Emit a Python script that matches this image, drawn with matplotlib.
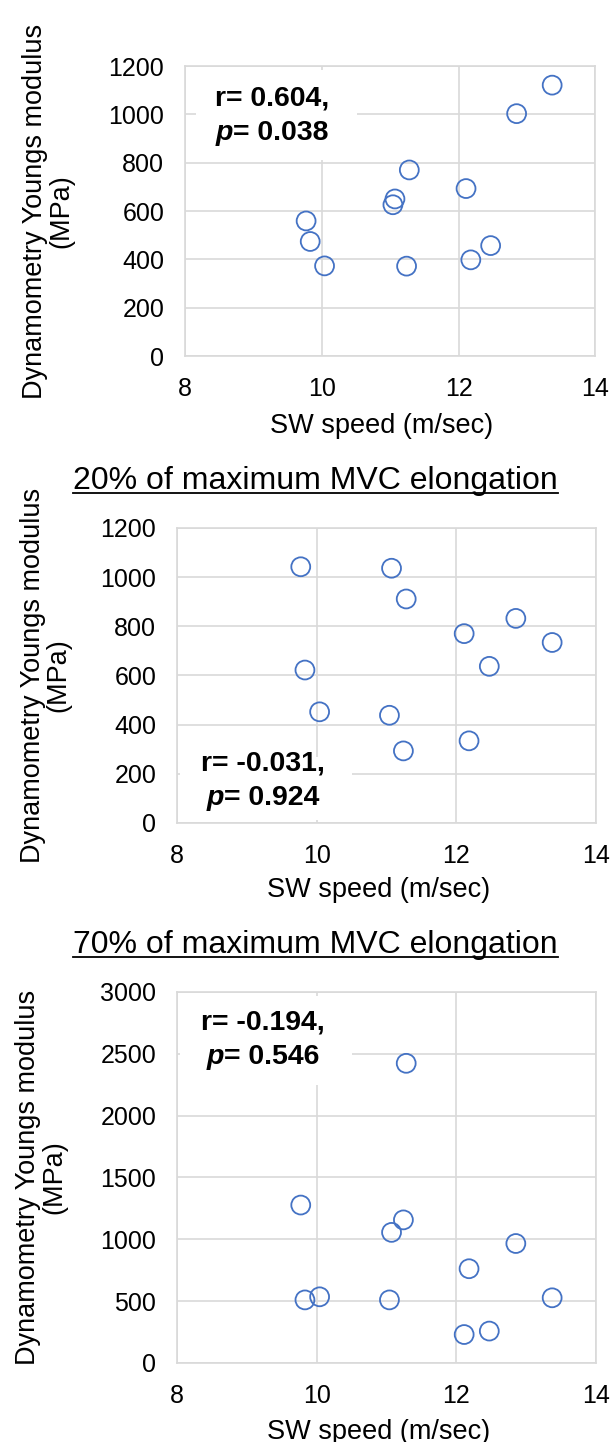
# Scatter plots: SW speed vs dynamometry Youngs modulus (3 panels)
import matplotlib.pyplot as plt
from matplotlib.patches import Rectangle
from matplotlib.lines import Line2D

plt.rcParams['font.family'] = ['Liberation Sans', 'DejaVu Sans']

# SW speed (m/sec), same subjects in every panel
sw_speed = [9.77, 9.83, 10.04, 11.04, 11.07, 11.28, 11.24, 12.11, 12.18, 12.47, 12.85, 13.37]

# Dynamometry Youngs modulus (MPa)
modulus_rest = [559, 474, 373, 626, 650, 770, 372, 693, 398, 457, 1003, 1121]
modulus_20 = [1042, 622, 452, 438, 1036, 911, 293, 770, 334, 637, 832, 734]
modulus_70 = [1277, 510, 535, 510, 1056, 2423, 1157, 230, 762, 258, 966, 527]

titles = [None, '20% of maximum MVC elongation', '70% of maximum MVC elongation']
r_labels = ['r= 0.604,', 'r= -0.031,', 'r= -0.194,']
p_values = ['= 0.038', '= 0.924', '= 0.546']
y_max = [1200, 1200, 3000]
y_step = [200, 200, 500]

blue = '#4472C4'
grid_col = '#d9d9d9'

fig = plt.figure(figsize=(6.13, 14.42), dpi=100)

# axes rectangles in figure fraction
positions = [[0.302, 0.7531, 0.669, 0.2011],
             [0.289, 0.4293, 0.6835, 0.2046],
             [0.289, 0.0548, 0.6835, 0.2573]]
# white box behind the r/p text (axes fraction)
boxes = [(0.027, 0.675, 0.393, 0.31), (0.007, 0.01, 0.41, 0.215), (0.007, 0.75, 0.41, 0.24)]
# text positions (axes fraction): r line, p line
r_pos = [(0.072, 0.888), (0.058, 0.20), (0.058, 0.918)]
p_pos = [(0.075, 0.77), (0.070, 0.084), (0.070, 0.824)]
ylabel_x = [-0.27, -0.252, -0.262]
xlabel_y = [-0.195, -0.184, -0.15]
# title baselines (figure fraction)
title_y = [None, 1 - 489 / 1442, 1 - 953 / 1442]

all_values = [modulus_rest, modulus_20, modulus_70]

for i in range(3):
    ax = fig.add_axes(positions[i])
    ax.scatter(sw_speed, all_values[i], s=185, facecolors='none', edgecolors=blue,
               linewidths=1.3, zorder=5)
    ax.set_xlim(8, 14)
    ax.set_ylim(0, y_max[i])
    ax.set_xticks([8, 10, 12, 14])
    ax.set_yticks(range(0, y_max[i] + 1, y_step[i]))
    ax.tick_params(length=0, labelsize=18, pad=15)
    ax.grid(True, color=grid_col, linewidth=1.2, zorder=0)
    ax.set_axisbelow(True)
    for sp in ax.spines.values():
        sp.set_color(grid_col)
        sp.set_linewidth(1.2)

    ax.set_ylabel('Dynamometry Youngs modulus\n(MPa)', fontsize=19.5, linespacing=1.0)
    ax.yaxis.set_label_coords(ylabel_x[i], 0.5)
    ax.set_xlabel('SW speed (m/sec)', fontsize=19.5)
    ax.xaxis.set_label_coords(0.48, xlabel_y[i])
    ax.xaxis.label.set_va('top')

    # white box hides the grid behind the stats
    bx, by, bw, bh = boxes[i]
    ax.add_patch(Rectangle((bx, by), bw, bh, transform=ax.transAxes,
                           facecolor='white', edgecolor='none', zorder=2))
    ax.text(r_pos[i][0], r_pos[i][1], r_labels[i], transform=ax.transAxes,
            fontsize=20.5, fontweight='bold', va='center', ha='left', zorder=6)
    p_txt = ax.text(p_pos[i][0], p_pos[i][1], 'p', transform=ax.transAxes,
                    fontsize=20.5, fontweight='bold', fontstyle='italic',
                    va='center', ha='left', zorder=6)
    ax.annotate(p_values[i], xy=(1, 0), xycoords=p_txt, va='bottom', ha='left',
                fontsize=20.5, fontweight='bold', zorder=6)

# titles with underline
renderer = fig.canvas.get_renderer()
for i in range(1, 3):
    t = fig.text(0.515, title_y[i], titles[i], ha='center', va='baseline', fontsize=23)
    bb = t.get_window_extent(renderer=renderer).transformed(fig.transFigure.inverted())
    uy = title_y[i] - 4 / 1442
    fig.add_artist(Line2D([bb.x0, bb.x1], [uy, uy], color='black', linewidth=1.3,
                          transform=fig.transFigure))

fig.savefig('out.png', dpi=100)
